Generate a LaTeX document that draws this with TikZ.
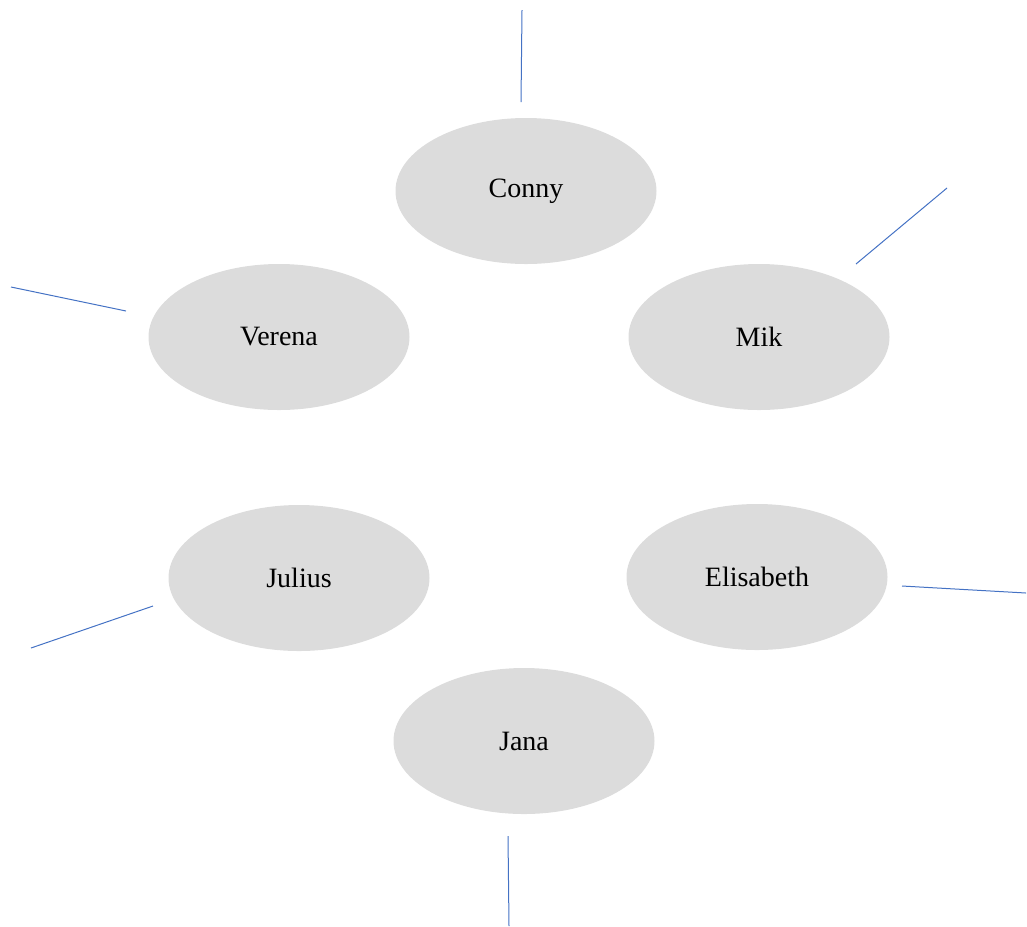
\documentclass[tikz,border=0pt]{standalone}
\usepackage{fontspec}
\setmainfont{Liberation Serif}
\usetikzlibrary{shapes.geometric}
\definecolor{ellfill}{HTML}{DCDCDC}
\definecolor{linblue}{HTML}{4472C4}
\begin{document}
\begin{tikzpicture}[x=0.75pt,y=-0.75pt,
  person/.style={ellipse,fill=ellfill,draw=none,minimum width=261*0.75pt,minimum height=146*0.75pt,inner sep=0pt,font=\fontsize{21}{25}\selectfont},
  spoke/.style={draw=linblue,line width=0.75pt}]
\useasboundingbox (0,0) rectangle (1027,926);
\node[person] (conny) at (526,191) {Conny};
\node[person] (verena) at (279,337) {Verena};
\node[person] (mik) at (759,337) {Mik};
\node[person] (julius) at (299,578) {Julius};
\node[person] (elisabeth) at (757,577) {Elisabeth};
\node[person] (jana) at (524,741) {Jana};
\coordinate (c1) at (522,10); \coordinate (c2) at (521,102);
\coordinate (m1) at (947,188); \coordinate (m2) at (856,264);
\coordinate (v1) at (11,287); \coordinate (v2) at (126,311);
\coordinate (j1) at (153,606); \coordinate (j2) at (31,648);
\coordinate (e1) at (902,586); \coordinate (e2) at (1026,593);
\coordinate (a1) at (508,836); \coordinate (a2) at (509,926);
\draw[spoke] (c1) -- (c2);
\draw[spoke] (m1) -- (m2);
\draw[spoke] (v1) -- (v2);
\draw[spoke] (j1) -- (j2);
\draw[spoke] (e1) -- (e2);
\draw[spoke] (a1) -- (a2);
\end{tikzpicture}
\end{document}
